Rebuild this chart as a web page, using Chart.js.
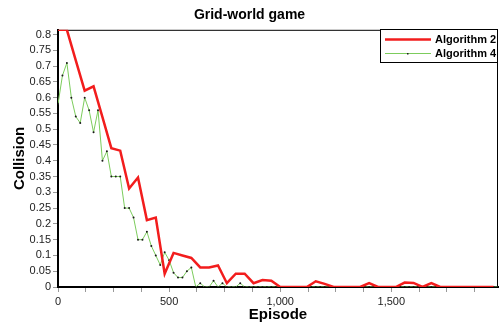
<!DOCTYPE html>
<html>
<head>
<meta charset="utf-8">
<title>Grid-world game</title>
<script src="https://cdn.jsdelivr.net/npm/chart.js@4.4.1/dist/chart.umd.min.js"></script>
<style>
	html, body { margin: 0; padding: 0; background: #fff; }
	#showchart { display: block; }
</style>
</head>
<body>
<canvas id="showchart" width="502" height="331"></canvas>
<script>
// collision rate per episode, algorithm 2 logged every 40 episodes, algorithm 4 every 20
var episodes_alg2 = [];
for (var e = 0; e <= 1960; e += 40) episodes_alg2.push(e);
var episodes_alg4 = [];
for (var e = 0; e <= 1980; e += 20) episodes_alg4.push(e);

var collision_alg2 = [
	0.815, 0.815, 0.718, 0.622, 0.636, 0.538, 0.44, 0.432, 0.312, 0.347,
	0.212, 0.22, 0.042, 0.108, 0.10, 0.092, 0.062, 0.062, 0.068, 0.012,
	0.042, 0.042, 0.012, 0.022, 0.02, 0, 0, 0, 0, 0.018,
	0.01, 0, 0, 0, 0, 0.012, 0, 0, 0, 0.014,
	0.013, 0, 0.012, 0, 0, 0, 0, 0, 0, 0
];
var collision_alg4 = [
	0.58, 0.67, 0.71, 0.60, 0.54, 0.52, 0.60, 0.56, 0.49, 0.56,
	0.40, 0.43, 0.35, 0.35, 0.35, 0.25, 0.25, 0.22, 0.15, 0.15,
	0.175, 0.13, 0.10, 0.07, 0.11, 0.085, 0.045, 0.03, 0.03, 0.05,
	0.062, 0, 0.012, 0, 0, 0.02, 0, 0.012, 0, 0,
	0, 0.012, 0, 0, 0, 0, 0, 0, 0, 0,
	0, 0, 0, 0, 0, 0, 0, 0, 0, 0,
	0, 0, 0, 0, 0, 0, 0, 0, 0, 0,
	0, 0, 0, 0, 0, 0, 0, 0, 0, 0,
	0, 0, 0, 0, 0, 0, 0, 0, 0, 0,
	0, 0, 0, 0, 0, 0, 0, 0, 0, 0
];
var series_names = ["Algorithm 2", "Algorithm 4"];
var x_labels_every = 500;

function points(xs, ys){
	var out = [];
	for (var i in xs) out.push({x: xs[i], y: ys[i]});
	return out;
}

var FONT = "'Liberation Sans', Arial, sans-serif";

// top/right frame lines of the plot box
var frame = {
	id: 'frame',
	beforeDatasetsDraw: function(chart){
		var a = chart.chartArea, c = chart.ctx;
		c.save();
		c.strokeStyle = '#000';
		c.lineWidth = 1;
		c.beginPath();
		c.moveTo(a.left, a.top + 0.5);
		c.lineTo(a.right - 0.5, a.top + 0.5);
		c.lineTo(a.right - 0.5, a.bottom);
		c.stroke();
		c.restore();
	}
};

// boxed legend in the upper right corner of the plot
var cornerLegend = {
	id: 'cornerLegend',
	afterDraw: function(chart){
		var c = chart.ctx, a = chart.chartArea;
		var x0 = 380.5, y0 = 29.5, x1 = a.right - 0.5, y1 = 62.5;
		c.save();
		c.fillStyle = '#fff';
		c.fillRect(x0, y0, x1 - x0, y1 - y0);
		c.strokeStyle = '#000';
		c.lineWidth = 1;
		c.strokeRect(x0, y0, x1 - x0, y1 - y0);
		c.font = 'bold 11px ' + FONT;
		c.textBaseline = 'middle';
		c.textAlign = 'left';
		chart.data.datasets.forEach(function(ds, i){
			var y = 39.5 + i * 14;
			c.strokeStyle = ds.borderColor;
			c.lineWidth = ds.borderWidth;
			c.beginPath();
			c.moveTo(385, y);
			c.lineTo(431, y);
			c.stroke();
			if (ds.pointRadius > 0) {
				c.fillStyle = ds.pointBackgroundColor;
				c.fillRect(407, y - 0.5, 1.5, 1.5);
			}
			c.fillStyle = '#000';
			c.fillText(ds.label, 435, y);
		});
		c.restore();
	}
};

var chartdata = {
	datasets: [
	{
		label: series_names[0],
		data: points(episodes_alg2, collision_alg2),
		borderColor: '#f21d1d',
		borderWidth: 2.5,
		pointRadius: 0,
		tension: 0
	},
	{
		label: series_names[1],
		data: points(episodes_alg4, collision_alg4),
		borderColor: '#7ccc5c',
		borderWidth: 1,
		pointRadius: 1,
		pointBorderWidth: 0,
		pointBackgroundColor: '#1a1a1a',
		tension: 0
	}
	]
};

var ctx = document.getElementById('showchart');
var lineGraph = new Chart(ctx, {
	type: 'line',
	data: chartdata,
	plugins: [frame, cornerLegend],
	options: {
		responsive: false,
		animation: false,
		layout: { padding: { left: 0, right: 3, top: 0, bottom: 0 } },
		plugins: {
			legend: { display: false },
			tooltip: { enabled: false },
			title: {
				display: true,
				text: 'Grid-world game',
				color: '#000',
				font: { family: FONT, size: 14, weight: 'bold' },
				padding: { top: 7, bottom: 6 }
			}
		},
		scales: {
			x: {
				type: 'linear',
				min: 0,
				max: 1980,
				afterFit: function(s){ s.height = 44; },
				border: { display: true, color: '#000', width: 2 },
				grid: { drawOnChartArea: false, drawTicks: true, tickLength: 5, color: '#999' },
				ticks: {
					stepSize: 125,
					includeBounds: false,
					autoSkip: false,
					maxRotation: 0,
					padding: 3,
					color: '#222',
					font: { family: FONT, size: 11 },
					callback: function(v){ return v % x_labels_every === 0 ? v.toLocaleString('en-US') : ''; }
				},
				title: {
					display: true,
					text: 'Episode',
					color: '#000',
					font: { family: FONT, size: 15, weight: 'bold' },
					padding: { top: 0, bottom: 7 }
				}
			},
			y: {
				min: 0,
				max: 0.815,
				afterFit: function(s){ s.width = 58; },
				border: { display: true, color: '#000', width: 2 },
				grid: { drawOnChartArea: false, drawTicks: true, tickLength: 5, color: '#999' },
				ticks: {
					stepSize: 0.05,
					includeBounds: false,
					autoSkip: false,
					padding: 2,
					color: '#222',
					font: { family: FONT, size: 11 },
					callback: function(v){ return String(+v.toFixed(2)); }
				},
				title: {
					display: true,
					text: 'Collision',
					color: '#000',
					font: { family: FONT, size: 15, weight: 'bold' },
					padding: { top: 11, bottom: 0 }
				}
			}
		}
	}
});
</script>
</body>
</html>
